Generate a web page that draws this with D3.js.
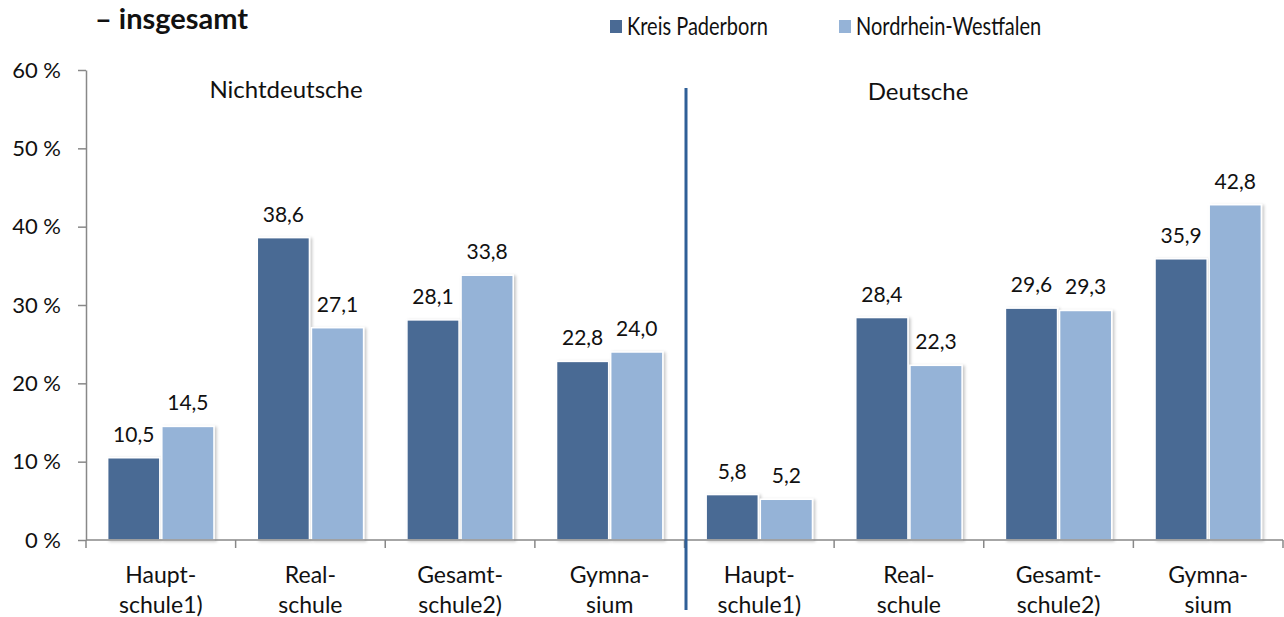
<!DOCTYPE html>
<html><head><meta charset="utf-8">
<script src="https://cdn.jsdelivr.net/npm/d3@7"></script>
<style>html,body{margin:0;padding:0;background:#fff;} svg{display:block;font-family:Lato,"Open Sans",sans-serif;}</style>
</head><body><svg id="c" width="1284" height="617"></svg>
<script>
const categories = ["Haupt-|schule1)","Real-|schule","Gesamt-|schule2)","Gymna-|sium","Haupt-|schule1)","Real-|schule","Gesamt-|schule2)","Gymna-|sium"];
const groupLabels = ["Nichtdeutsche","Deutsche"];
const seriesNames = ["Kreis Paderborn","Nordrhein-Westfalen"];
const kreisPaderborn = [10.5,38.6,28.1,22.8,5.8,28.4,29.6,35.9];
const nrw = [14.5,27.1,33.8,24.0,5.2,22.3,29.3,42.8];
const yTicks = [0,10,20,30,40,50,60];
const colors = ["#4A6A94","#95B3D7"];

const svg = d3.select("#c");
const defs = svg.append("defs");
const f = defs.append("filter").attr("id","sh").attr("x","-20%").attr("y","-20%").attr("width","140%").attr("height","140%");
f.append("feDropShadow").attr("dx",2).attr("dy",1).attr("stdDeviation",1.5).attr("flood-color","#000").attr("flood-opacity",0.22);

const x0 = 86, x1 = 1283, yTop = 70, yBot = 540;
const idx = d3.range(categories.length);
const x = d3.scaleBand().domain(idx).range([x0,x1]).paddingInner(0).paddingOuter(0);
const xs = d3.scaleBand().domain([0,1]).range([0,x.bandwidth()]).paddingOuter(0.4).paddingInner(0.037);
const y = d3.scaleLinear().domain([0,60]).range([yBot,yTop]);

// title
svg.append("text").attr("x",95).attr("y",29).attr("font-size",29).attr("font-weight","bold").attr("fill","#111").text("– insgesamt");

// legend
const lg = [[610,627],[839,856]];
seriesNames.forEach((n,i)=>{
  svg.append("rect").attr("x",lg[i][0]).attr("y",20).attr("width",12).attr("height",13).attr("fill",colors[i]);
  svg.append("text").attr("transform",`translate(${lg[i][1]},35) scale(0.8,1)`).attr("font-size",25).attr("fill","#111").text(n);
});

// bars
const data = [kreisPaderborn,nrw];
const g = svg.append("g");
idx.forEach(c=>{
  data.forEach((arr,s)=>{
    const v = arr[c];
    const bx = x(c)+xs(s);
    g.append("rect").attr("x",bx).attr("y",y(v)).attr("width",xs.bandwidth()).attr("height",y(0)-y(v))
      .attr("fill",colors[s]).attr("stroke","#fff").attr("stroke-width",1.5).attr("filter","url(#sh)");
    g.append("text").attr("x",bx+xs.bandwidth()/2).attr("y",y(v)-16).attr("text-anchor","middle")
      .attr("font-size",21).attr("fill","#111").text(d3.format(".1f")(v).replace(".",","));
  });
});

// y axis
const ya = svg.append("g").attr("transform",`translate(${x0},0)`)
  .call(d3.axisLeft(y).tickValues(yTicks).tickSize(8).tickSizeOuter(0).tickFormat(d=>d+" %"));
ya.select(".domain").attr("stroke","#888").attr("stroke-width",1.5);
ya.selectAll(".tick line").attr("stroke","#888").attr("stroke-width",1.5);
ya.selectAll(".tick text").attr("font-size",22).attr("fill","#111").attr("font-family","Lato").attr("x",-25);

// x axis
const xa = svg.append("g").attr("transform",`translate(0,${yBot})`);
xa.append("line").attr("x1",x0).attr("x2",x1).attr("stroke","#888").attr("stroke-width",1.5);
d3.range(categories.length+1).forEach(k=>{
  const tx = x0 + k*x.bandwidth();
  xa.append("line").attr("x1",tx).attr("x2",tx).attr("y1",0).attr("y2",8).attr("stroke","#888").attr("stroke-width",1.5);
});
idx.forEach(c=>{
  const parts = categories[c].split("|");
  const t = xa.append("text").attr("text-anchor","middle").attr("font-size",23).attr("fill","#111");
  parts.forEach((p,i)=>t.append("tspan").attr("x",x(c)+x.bandwidth()/2).attr("y",43+i*30).text(p));
});

// separator
const sx = x(4)+1.5;
svg.append("line").attr("x1",sx).attr("x2",sx).attr("y1",88).attr("y2",610).attr("stroke","#2F5F97").attr("stroke-width",3);

// group labels
svg.append("text").attr("x",286).attr("y",98).attr("text-anchor","middle").attr("font-size",24).attr("fill","#111").text(groupLabels[0]);
svg.append("text").attr("x",918).attr("y",100).attr("text-anchor","middle").attr("font-size",24).attr("fill","#111").text(groupLabels[1]);
</script></body></html>
